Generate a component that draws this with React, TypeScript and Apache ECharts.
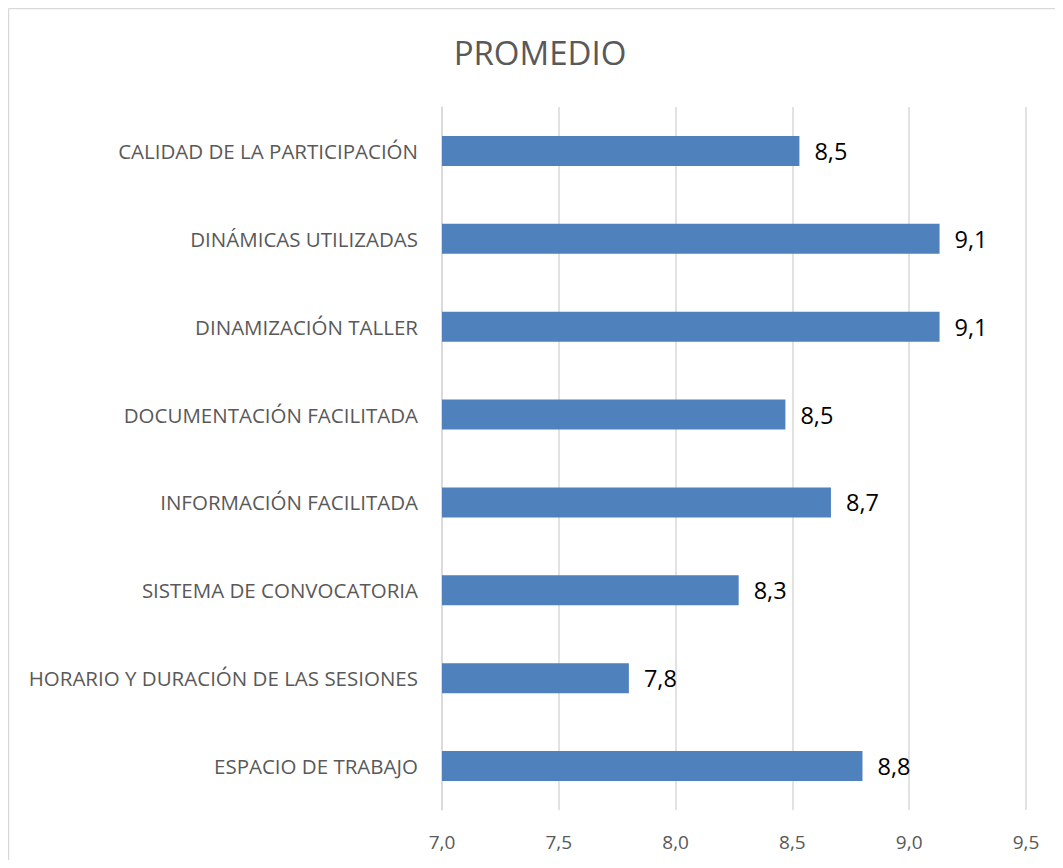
import React, { useEffect, useRef } from "react";
import * as echarts from "echarts";

const categories = [
  "CALIDAD DE LA PARTICIPACIÓN",
  "DINÁMICAS UTILIZADAS",
  "DINAMIZACIÓN TALLER",
  "DOCUMENTACIÓN FACILITADA",
  "INFORMACIÓN FACILITADA",
  "SISTEMA DE CONVOCATORIA",
  "HORARIO Y DURACIÓN DE LAS SESIONES",
  "ESPACIO DE TRABAJO",
];
const promedio = [8.53, 9.13, 9.13, 8.47, 8.665, 8.27, 7.8, 8.8];
const titleText = "PROMEDIO";
const axisMin = 7;
const axisMax = 9.5;
const axisStep = 0.5;

const fmt = (v: number) => v.toFixed(1).replace(".", ",");

export default function App() {
  const ref = useRef<HTMLDivElement>(null);
  useEffect(() => {
    if (!ref.current) return;
    const chart = echarts.init(ref.current, null, { renderer: "svg" });
    const font = "'Open Sans', 'Noto Sans', sans-serif";
    chart.setOption({
      animation: false,
      backgroundColor: "#ffffff",
      textStyle: { fontFamily: font },
      graphic: [
        { type: "line", shape: { x1: 0.5, y1: 0.5, x2: 1047, y2: 0.5 }, style: { stroke: "#d9d9d9", lineWidth: 1.5 } },
        { type: "line", shape: { x1: 0.5, y1: 0.5, x2: 0.5, y2: 852 }, style: { stroke: "#d9d9d9", lineWidth: 1.5 } },
        {
          type: "text",
          x: 532,
          y: 44,
          style: {
            text: titleText,
            fontFamily: font,
            fontSize: 33,
            fill: "#595959",
            textAlign: "center",
            textVerticalAlign: "middle",
          },
        },
      ],
      grid: { left: 434, right: 29, top: 99, bottom: 50, containLabel: false },
      xAxis: {
        type: "value",
        min: axisMin,
        max: axisMax,
        interval: axisStep,
        axisLine: { show: false },
        axisTick: { show: false },
        splitLine: { show: true, lineStyle: { color: "#d9d9d9", width: 1.5 } },
        axisLabel: {
          formatter: (v: number) => fmt(v),
          color: "#595959",
          fontSize: 19,
          margin: 22,
          fontFamily: font,
        },
      },
      yAxis: {
        type: "category",
        data: categories,
        inverse: true,
        axisLine: { show: true, lineStyle: { color: "#d9d9d9", width: 1.5 } },
        axisTick: { show: false },
        axisLabel: { color: "#595959", fontSize: 20.5, margin: 24, fontFamily: font },
      },
      series: [
        {
          type: "bar",
          data: promedio,
          barWidth: 30,
          itemStyle: { color: "#4f81bd" },
          label: {
            show: true,
            position: "right",
            distance: 15,
            formatter: (p: any) => fmt(p.value),
            color: "#000000",
            fontSize: 23.5,
            fontFamily: font,
          },
        },
      ],
    });
    return () => chart.dispose();
  }, []);
  return <div ref={ref} style={{ width: 1047, height: 852 }} />;
}
